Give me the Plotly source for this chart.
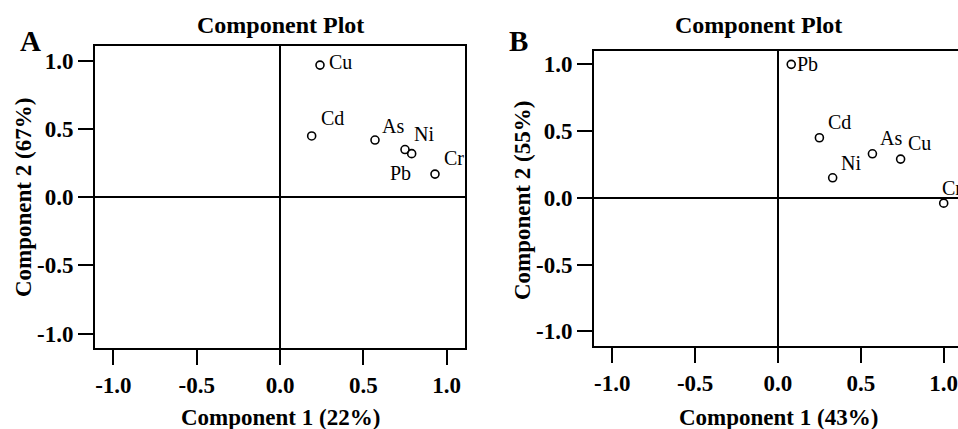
import plotly.graph_objects as go

W, H = 958, 429

# ---- data ----
a_labels = ["Cu", "Cd", "As", "Ni", "Pb", "Cr"]
a_comp1 = [0.24, 0.19, 0.57, 0.75, 0.79, 0.93]
a_comp2 = [0.97, 0.45, 0.42, 0.35, 0.32, 0.17]

b_labels = ["Pb", "Cd", "Ni", "As", "Cu", "Cr"]
b_comp1 = [0.08, 0.25, 0.33, 0.57, 0.74, 1.00]
b_comp2 = [1.00, 0.45, 0.15, 0.33, 0.29, -0.04]

tick_vals = [-1.0, -0.5, 0.0, 0.5, 1.0]
tick_text = ["-1.0", "-0.5", "0.0", "0.5", "1.0"]

a_title_x = "Component 1 (22%)"
a_title_y = "Component 2 (67%)"
b_title_x = "Component 1 (43%)"
b_title_y = "Component 2 (55%)"

# label offsets (pixels): (xshift, yshift, xanchor)
a_offsets = [(7, 3, "left"), (7, 18, "left"), (5, 14, "left"), (7, 16, "left"), (1, -19, "right"), (7, 16, "left")]
b_offsets = [(4, 0, "left"), (7, 16, "left"), (6, 15, "left"), (6, 16, "left"), (5, 16, "left"), (-4, 15, "left")]

SERIF = "Liberation Serif, Times New Roman, serif"

fig = go.Figure()

fig.add_trace(go.Scatter(x=a_comp1, y=a_comp2, mode="markers", xaxis="x", yaxis="y",
                         marker=dict(symbol="circle-open", size=8, color="black", line=dict(width=1.6)),
                         showlegend=False, hoverinfo="skip", cliponaxis=False))
fig.add_trace(go.Scatter(x=b_comp1, y=b_comp2, mode="markers", xaxis="x2", yaxis="y2",
                         marker=dict(symbol="circle-open", size=8, color="black", line=dict(width=1.6)),
                         showlegend=False, hoverinfo="skip", cliponaxis=False))

def px(v):
    return v / W

def py(v):
    return 1 - v / H

tickfont = dict(family=SERIF, size=23, color="black", weight="bold")

def xaxis(domain, rng, anchor):
    return dict(domain=domain, range=rng, anchor=anchor, tickvals=tick_vals, ticktext=tick_text,
                ticks="outside", ticklen=15, tickwidth=2, tickcolor="black",
                showline=True, linecolor="black", linewidth=2, mirror=True,
                showgrid=False, zeroline=True, zerolinecolor="black", zerolinewidth=2,
                tickfont=tickfont, fixedrange=True, ticklabeloverflow="allow")

def yaxis(domain, rng, anchor, mirror):
    return dict(domain=domain, range=rng, anchor=anchor, tickvals=tick_vals, ticktext=tick_text,
                ticks="outside", ticklen=15, tickwidth=2, tickcolor="black",
                showline=True, linecolor="black", linewidth=2, mirror=mirror,
                showgrid=False, zeroline=True, zerolinecolor="black", zerolinewidth=2,
                tickfont=tickfont, fixedrange=True, ticklabeloverflow="allow")

annotations = []
for lab, x, y, (dx, dy, xa) in zip(a_labels, a_comp1, a_comp2, a_offsets):
    annotations.append(dict(x=x, y=y, xref="x", yref="y", text=lab, showarrow=False,
                            xanchor=xa, yanchor="middle", xshift=dx, yshift=dy,
                            font=dict(family=SERIF, size=20, color="black")))
for lab, x, y, (dx, dy, xa) in zip(b_labels, b_comp1, b_comp2, b_offsets):
    annotations.append(dict(x=x, y=y, xref="x2", yref="y2", text=lab, showarrow=False,
                            xanchor=xa, yanchor="middle", xshift=dx, yshift=dy,
                            font=dict(family=SERIF, size=20, color="black")))

title_font = dict(family=SERIF, size=24, color="black", weight="bold")
axis_font = dict(family=SERIF, size=23, color="black", weight="bold")
annotations += [
    dict(x=px(280), y=py(25), xref="paper", yref="paper", text="Component Plot", showarrow=False,
         xanchor="center", yanchor="middle", font=title_font),
    dict(x=px(758), y=py(25), xref="paper", yref="paper", text="Component Plot", showarrow=False,
         xanchor="center", yanchor="middle", font=title_font),
    dict(x=px(30), y=py(41), xref="paper", yref="paper", text="A", showarrow=False,
         xanchor="center", yanchor="middle", font=dict(family=SERIF, size=29, color="black", weight="bold")),
    dict(x=px(518), y=py(41), xref="paper", yref="paper", text="B", showarrow=False,
         xanchor="center", yanchor="middle", font=dict(family=SERIF, size=29, color="black", weight="bold")),
    dict(x=px(280), y=py(417), xref="paper", yref="paper", text=a_title_x, showarrow=False,
         xanchor="center", yanchor="middle", font=axis_font),
    dict(x=px(778), y=py(417), xref="paper", yref="paper", text=b_title_x, showarrow=False,
         xanchor="center", yanchor="middle", font=axis_font),
    dict(x=px(23), y=py(198), xref="paper", yref="paper", text=a_title_y, showarrow=False, textangle=-90,
         xanchor="center", yanchor="middle", font=axis_font),
    dict(x=px(522), y=py(201), xref="paper", yref="paper", text=b_title_y, showarrow=False, textangle=-90,
         xanchor="center", yanchor="middle", font=axis_font),
]

fig.update_layout(
    width=W, height=H, margin=dict(l=0, r=0, t=0, b=0),
    paper_bgcolor="white", plot_bgcolor="white",
    xaxis=xaxis([px(95), px(465)], [-1.11, 1.11], "y"),
    yaxis=yaxis([py(348), py(46)], [-1.106, 1.11], "x", True),
    xaxis2=xaxis([px(594), 1.0], [-1.11, 1.0 + 14.3 / 165.7], "y2"),
    yaxis2=yaxis([py(346), py(51)], [-1.11, 1.10], "x2", False),
    annotations=annotations,
)

fig.write_html("out.html")
